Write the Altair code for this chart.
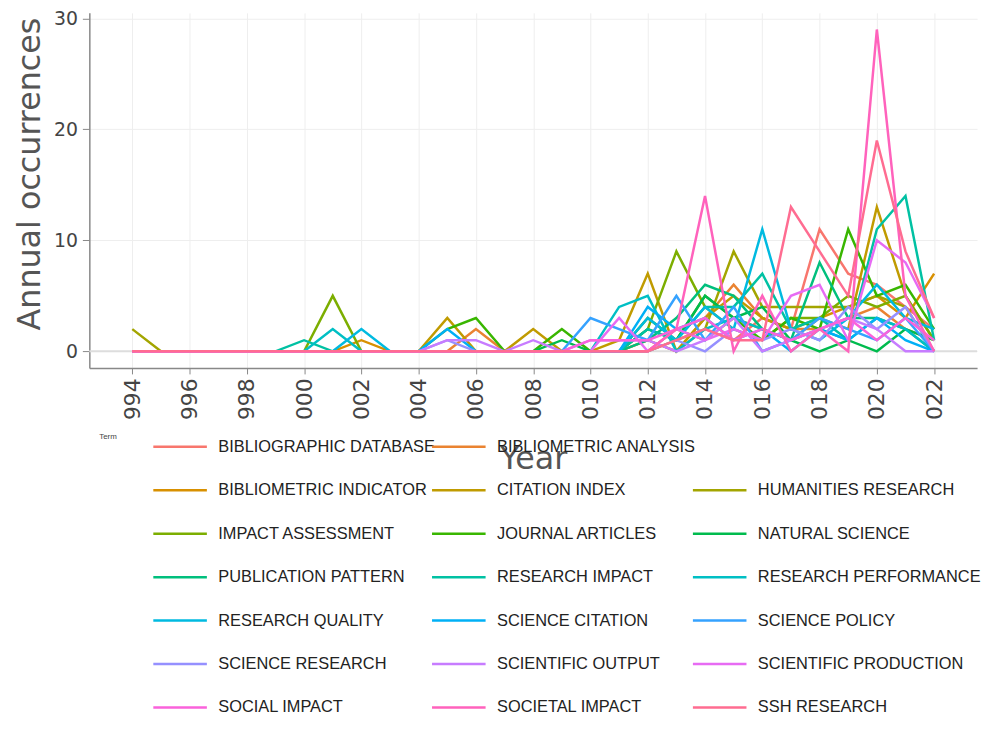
import altair as alt
import pandas as pd

years = list(range(1994, 2023))

terms = [
    "BIBLIOGRAPHIC DATABASE", "BIBLIOMETRIC ANALYSIS", "BIBLIOMETRIC INDICATOR",
    "CITATION INDEX", "HUMANITIES RESEARCH", "IMPACT ASSESSMENT", "JOURNAL ARTICLES",
    "NATURAL SCIENCE", "PUBLICATION PATTERN", "RESEARCH IMPACT", "RESEARCH PERFORMANCE",
    "RESEARCH QUALITY", "SCIENCE CITATION", "SCIENCE POLICY", "SCIENCE RESEARCH",
    "SCIENTIFIC OUTPUT", "SCIENTIFIC PRODUCTION", "SOCIAL IMPACT", "SOCIETAL IMPACT",
    "SSH RESEARCH",
]

colors = [
    "#F8766D", "#EA8331", "#D89000", "#C09B00", "#A3A500", "#7CAE00", "#39B600",
    "#00BB4E", "#00BF7D", "#00C1A3", "#00BFC4", "#00BAE0", "#00B0F6", "#35A2FF",
    "#9590FF", "#C77CFF", "#E76BF3", "#FA62DB", "#FF62BC", "#FF6C91",
]

# values 1994 ... 2022
bibliographic_database = [0]*16 + [0, 0, 1, 0, 2, 1, 3, 2, 11, 7, 6, 4, 2]
bibliometric_analysis  = [0]*12 + [2, 0, 0, 0] + [0, 0, 1, 0, 3, 6, 3, 2, 2, 3, 4, 2, 1]
bibliometric_indicator = [0]*8 + [1] + [0]*7 + [0, 0, 0, 2, 1, 3, 2, 1, 3, 4, 5, 3, 7]
citation_index         = [0]*11 + [3, 0, 0, 2, 0] + [0, 1, 7, 0, 3, 5, 3, 2, 3, 2, 13, 5, 1]
humanities_research    = [2] + [0]*15 + [0, 0, 0, 1, 2, 9, 4, 4, 4, 4, 5, 4, 0]
impact_assessment      = [0]*7 + [5] + [0]*8 + [0, 0, 2, 9, 4, 2, 1, 3, 3, 5, 4, 5, 1]
journal_articles       = [0]*11 + [2, 3, 0, 0, 2] + [0, 0, 3, 1, 5, 3, 1, 3, 2, 11, 5, 6, 2]
natural_science        = [0]*15 + [1] + [0, 0, 2, 1, 5, 3, 4, 1, 0, 1, 0, 2, 1]
publication_pattern    = [0]*16 + [0, 0, 1, 3, 6, 5, 2, 1, 8, 3, 3, 2, 0]
research_impact        = [0]*6 + [1] + [0]*9 + [0, 0, 2, 1, 4, 4, 7, 2, 3, 1, 11, 14, 1]
research_performance   = [0]*7 + [2] + [0]*8 + [0, 4, 5, 0, 2, 3, 2, 1, 2, 1, 3, 2, 0]
research_quality       = [0]*8 + [2] + [0]*7 + [0, 0, 3, 1, 4, 2, 11, 2, 1, 3, 6, 3, 2]
science_citation       = [0]*11 + [2] + [0]*4 + [0, 0, 4, 2, 3, 1, 2, 0, 2, 1, 3, 1, 0]
science_policy         = [0]*16 + [3, 2, 1, 5, 1, 4, 0, 1, 3, 2, 1, 3, 0]
science_research       = [0]*11 + [1] + [0]*4 + [0, 0, 0, 1, 0, 2, 1, 2, 1, 4, 2, 4, 0]
scientific_output      = [0]*11 + [1, 1, 0, 1, 0] + [1, 1, 1, 0, 1, 3, 0, 1, 2, 3, 2, 0, 0]
scientific_production  = [0]*16 + [0, 3, 0, 2, 1, 2, 1, 5, 6, 1, 10, 8, 3]
social_impact          = [0]*16 + [1, 1, 1, 2, 3, 1, 2, 1, 2, 3, 1, 3, 1]
societal_impact        = [0]*16 + [0, 0, 0, 2, 14, 0, 5, 0, 2, 0, 29, 5, 0]
ssh_research           = [0]*16 + [0, 0, 0, 1, 2, 1, 1, 13, 9, 5, 19, 9, 3]

series = [
    bibliographic_database, bibliometric_analysis, bibliometric_indicator,
    citation_index, humanities_research, impact_assessment, journal_articles,
    natural_science, publication_pattern, research_impact, research_performance,
    research_quality, science_citation, science_policy, science_research,
    scientific_output, scientific_production, social_impact, societal_impact,
    ssh_research,
]

x_ticks = list(range(1994, 2023, 2))
y_ticks = [0, 10, 20, 30]

rows = []
for term, vals in zip(terms, series):
    for yr, v in zip(years, vals):
        rows.append({"Year": yr, "Term": term, "Value": v})
df = pd.DataFrame(rows)

# legend order with an empty slot after the second entry (as in the reference)
legend_domain = terms[:2] + [" "] + terms[2:]
legend_range = colors[:2] + ["transparent"] + colors[2:]

xscale = alt.Scale(domain=[1992.5, 2023.5], nice=False, zero=False)
yscale = alt.Scale(domain=[-1.5, 30.5], nice=False, zero=False)

zero_rule = alt.Chart(pd.DataFrame({"v": [0]})).mark_rule(
    color="#dddddd", strokeWidth=2
).encode(y=alt.Y("v:Q", scale=yscale))

lines = alt.Chart(df).mark_line(strokeWidth=2.5).encode(
    x=alt.X(
        "Year:Q", scale=xscale,
        axis=alt.Axis(
            values=x_ticks, format="d", labelExpr="substring(datum.label, 1)",
            labelAngle=270, labelFont="DejaVu Sans", labelFontSize=22,
            labelColor="#444444", labelPadding=4, tickSize=6, tickColor="#888888",
            domainColor="#888888", domainWidth=1.5, gridColor="#eeeeee",
            title="Year", titleFont="DejaVu Sans", titleFontSize=32,
            titleFontWeight="normal", titleColor="#555555", titleY=91,
            titleBaseline="middle",
        ),
    ),
    y=alt.Y(
        "Value:Q", scale=yscale,
        axis=alt.Axis(
            values=y_ticks, labelFont="DejaVu Sans", labelFontSize=19,
            labelColor="#444444", labelPadding=5, tickSize=7, tickColor="#888888",
            domainColor="#888888", domainWidth=1.5, gridColor="#eeeeee",
            title="Annual occurrences", titleFont="DejaVu Sans", titleFontSize=32,
            titleFontWeight="normal", titleColor="#555555", titleX=-60, titleY=162,
            titleAlign="center", titleBaseline="middle", titleAngle=270,
        ),
    ),
    color=alt.Color(
        "Term:N",
        scale=alt.Scale(domain=legend_domain, range=legend_range),
        legend=alt.Legend(
            title="Term", orient="none", legendX=10, legendY=423.5,
            direction="horizontal",
            columns=3, gridAlign="none", symbolType="stroke", symbolSize=2916,
            symbolStrokeWidth=2.5, clipHeight=28, rowPadding=15.8, columnPadding=-5,
            labelOffset=10, labelFont="Liberation Sans", labelFontSize=16.5,
            labelColor="#222222", labelLimit=500, titleFont="Liberation Sans",
            titleFontSize=8, titleFontWeight="normal", titleColor="#444444",
            titleOrient="left", titleAnchor="start", titlePadding=35, padding=0,
        ),
    ),
)

chart = alt.layer(zero_rule, lines).properties(
    width=895, height=358,
    autosize=alt.AutoSizeParams(type="none"),
    padding={"left": 82, "top": 2, "right": 10, "bottom": 347},
).configure_view(stroke=None)

chart.save("out.html", embed_options={"renderer": "svg", "actions": False})
